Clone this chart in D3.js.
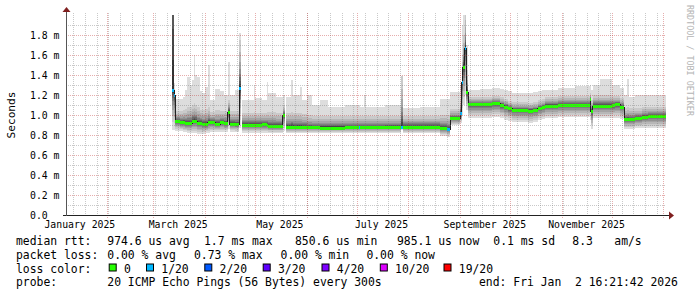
<!DOCTYPE html>
<html>
<head>
<meta charset="utf-8">
<script src="https://cdn.jsdelivr.net/npm/d3@7"></script>
<style>
  html, body { margin: 0; padding: 0; background: #fff; }
  svg { display: block; }
  text { font-family: "DejaVu Sans Mono", monospace; fill: #000; white-space: pre; }
</style>
</head>
<body>
<svg id="chart" width="697" height="297"></svg>
<script>
// Time window of the graph (360 days ending at the probe end time)
const endTime = '2026-01-02T16:21:42Z'
const spanDays = 360

// One entry per consolidated step (start time, UTC, hour resolution)
const bucketStart = [
  '2025-03-12T07', '2025-03-13T12', '2025-03-14T02', '2025-03-17T02', '2025-03-18T21',
  '2025-03-20T02', '2025-03-21T07', '2025-03-23T02', '2025-03-24T07', '2025-03-25T12',
  '2025-03-26T02', '2025-03-27T07', '2025-03-29T02', '2025-03-30T07', '2025-04-01T02',
  '2025-04-02T21', '2025-04-04T02', '2025-04-07T02', '2025-04-10T02', '2025-04-12T12',
  '2025-04-14T21', '2025-04-15T19', '2025-04-19T02', '2025-04-21T12', '2025-04-22T16',
  '2025-04-23T07', '2025-04-30T12', '2025-05-01T09', '2025-05-05T07', '2025-05-08T07',
  '2025-05-08T21', '2025-05-13T16', '2025-05-17T21', '2025-05-19T02', '2025-05-19T23',
  '2025-05-22T16', '2025-05-23T21', '2025-05-28T02', '2025-05-29T07', '2025-06-01T07',
  '2025-06-04T07', '2025-06-09T02', '2025-06-13T21', '2025-06-24T02', '2025-07-02T12',
  '2025-07-03T02', '2025-07-05T12', '2025-07-06T16', '2025-07-18T02', '2025-07-27T16',
  '2025-07-28T21', '2025-08-08T02', '2025-08-20T02', '2025-08-24T07', '2025-08-26T02',
  '2025-09-01T02', '2025-09-02T02', '2025-09-02T21', '2025-09-03T19', '2025-09-04T23',
  '2025-09-06T01', '2025-09-13T02', '2025-09-20T07', '2025-09-25T02', '2025-09-27T12',
  '2025-09-29T21', '2025-10-02T07', '2025-10-11T21', '2025-10-14T21', '2025-10-17T21',
  '2025-10-20T07', '2025-10-22T02', '2025-10-29T21', '2025-11-09T02', '2025-11-18T02',
  '2025-11-18T16', '2025-11-19T21', '2025-11-24T02', '2025-12-01T07', '2025-12-03T02',
  '2025-12-06T02', '2025-12-08T12', '2025-12-10T07', '2025-12-11T12', '2025-12-15T02',
  '2025-12-19T07', '2025-12-22T21'
]

// median rtt in ms (null = no data)
const medianMs = [
  1.25, 1.20, 0.94, 0.927, 0.927, 0.917, 0.917, 0.917, 0.94, 0.94,
  0.94, 0.917, 0.917, 0.907, 0.907, 0.927, 0.927, 0.907, 0.927, 0.917,
  1.03, 0.907, 0.905, 1.27, null, 0.90, 0.90, 0.90, 0.905, 0.90,
  0.89, 0.89, 1.00, null, 0.883, 0.883, 0.883, 0.883, 0.883, 0.877,
  0.877, 0.875, 0.875, 0.877, 0.877, 0.877, 0.877, 0.877, 0.88, 0.88,
  0.883, 0.883, 0.867, 0.857, 0.967, 1.017, 1.33, 1.48, 1.67, 1.23,
  1.107, 1.107, 1.117, 1.10, 1.085, 1.067, 1.05, 1.045, 1.05, 1.07,
  1.08, 1.093, 1.10, 1.10, 1.16, 1.04, 1.093, 1.093, 1.10, 1.107,
  1.085, 0.957, 0.957, 0.957, 0.967, 0.983, 0.99
]

// slowest ping of the step (top of the lightest smoke)
const maxMs = [
  8, 1.32, 1.16, 1.16, 1.18, 1.25, 1.38, 1.30, 1.35, 1.60,
  1.40, 1.38, 1.24, 1.22, 1.28, 1.50, 1.15, 1.26, 1.24, 1.20,
  1.53, 1.20, 1.25, 1.82, null, 1.15, 1.30, 1.17, 1.15, 1.33,
  1.22, 1.18, 1.20, null, 1.18, 1.35, 1.20, 1.28, 1.15, 1.20,
  1.10, 1.15, 1.08, 1.10, 1.10, 1.08, 1.20, 1.08, 1.10, 1.39,
  1.07, 1.08, 1.16, 1.16, 1.23, 1.30, 1.90, 2.00, 2.20, 1.70,
  1.25, 1.26, 1.27, 1.26, 1.25, 1.24, 1.22, 1.22, 1.23, 1.24,
  1.25, 1.25, 1.27, 1.29, 1.30, 1.25, 1.30, 1.36, 1.30, 1.30,
  1.27, 1.20, 1.36, 1.18, 1.20, 1.20, 1.20
]

// upper edge of the second smoke band
const upperMs = [
  8, 1.26, 1.04, 1.04, 1.05, 1.06, 1.08, 1.08, 1.10, 1.12,
  1.10, 1.08, 1.05, 1.05, 1.06, 1.08, 1.03, 1.05, 1.04, 1.04,
  1.15, 1.04, 1.04, 1.75, null, 1.02, 1.03, 1.02, 1.02, 1.03,
  1.03, 1.02, 1.10, null, 1.02, 1.03, 1.02, 1.02, 1.01, 1.00,
  0.99, 0.99, 0.99, 0.99, 0.99, 0.99, 0.99, 0.99, 0.99, 1.39,
  0.99, 0.99, 1.00, 1.00, 1.06, 1.15, 1.60, 1.80, 2.05, 1.45,
  1.18, 1.18, 1.19, 1.18, 1.16, 1.14, 1.13, 1.12, 1.13, 1.15,
  1.16, 1.18, 1.19, 1.19, 1.22, 1.15, 1.20, 1.20, 1.19, 1.19,
  1.17, 1.07, 1.08, 1.07, 1.07, 1.08, 1.08
]

// fastest ping of the step (bottom of the smoke)
const minMs = [
  0.85, 0.85, 0.84, 0.84, 0.83, 0.83, 0.82, 0.82, 0.82, 0.82,
  0.82, 0.81, 0.81, 0.81, 0.82, 0.82, 0.83, 0.83, 0.83, 0.83,
  0.86, 0.83, 0.83, 0.87, null, 0.82, 0.82, 0.82, 0.82, 0.82,
  0.82, 0.82, 0.84, null, 0.82, 0.82, 0.82, 0.82, 0.82, 0.82,
  0.82, 0.82, 0.82, 0.82, 0.82, 0.82, 0.82, 0.82, 0.82, 0.85,
  0.82, 0.82, 0.79, 0.78, 0.90, 0.92, 1.00, 1.10, 1.20, 1.05,
  0.97, 0.97, 0.98, 0.97, 0.95, 0.94, 0.93, 0.92, 0.93, 0.95,
  0.96, 0.97, 0.98, 0.98, 0.95, 0.86, 0.97, 0.97, 0.97, 0.97,
  0.96, 0.86, 0.86, 0.86, 0.87, 0.87, 0.87
]

// lost pings out of 20
const lossCount = [
  1, 1, 0, 0, 0, 0, 0, 0, 0, 0,
  0, 0, 0, 0, 0, 0, 0, 0, 0, 0,
  0, 0, 0, 1, 0, 0, 0, 0, 0, 0,
  0, 0, 0, 0, 0, 0, 0, 0, 0, 0,
  0, 0, 0, 0, 1, 0, 0, 0, 0, 1,
  0, 0, 0, 1, 0, 1, 1, 0, 1, 0,
  0, 0, 0, 0, 0, 0, 0, 0, 0, 0,
  0, 0, 0, 0, 0, 0, 0, 0, 0, 0,
  0, 0, 0, 0, 0, 0, 0
]

// smoke shape: share of the spread reached by each band (lightest first)
const upShare = [1, 1, 0.75, 0.55, 0.4, 0.3, 0.22, 0.15, 0.09, 0.045]
const downShare = [1, 0.8, 0.64, 0.5, 0.38, 0.28, 0.2, 0.13, 0.07, 0.03]
const smokeGrey = [221, 202, 183, 164, 145, 126, 107, 88, 69, 50]

const lossLevels = [0, 1, 2, 3, 4, 10, 19]
const lossLabels = ['0', '1/20', '2/20', '3/20', '4/20', '10/20', '19/20']
const lossColors = ['#26ff00', '#00b8ff', '#0059ff', '#5e00ff', '#7e00ff', '#dd00ff', '#ff0000']

const yTicks = [0, 0.2, 0.4, 0.6, 0.8, 1.0, 1.2, 1.4, 1.6, 1.8]
const monthLabelMonths = ['2025-01', '2025-03', '2025-05', '2025-07', '2025-09', '2025-11']

const rttStats = ['median rtt:', '974.6 us avg', '1.7 ms max', '850.6 us min', '985.1 us now', '0.1 ms sd', '8.3', 'am/s']
const lossStats = ['packet loss:', '0.00 % avg', '0.73 % max', '0.00 % min', '0.00 % now']
const probeText = ['probe:', '20 ICMP Echo Pings (56 Bytes) every 300s', 'end: Fri Jan  2 16:21:42 2026']

// ---- layout ----
const plot = { left: 66, right: 666, top: 15, bottom: 215 }
const rttX = [16, 107.3, 204, 295, 397, 493.3, 572.3, 614.3]
const lossX = [16, 107.3, 194, 280.6, 366.4]
const lossBoxX = [108.7, 146, 204.3, 262.7, 321.5, 379.8, 443.5]
const probeX = [16, 107.3, 479]
const rowY = [244.5, 258.5, 272.5, 286.3]

const svg = d3.select('#chart')
const parseHour = d3.utcParse('%Y-%m-%dT%H')
const end = new Date(endTime)
const start = d3.utcDay.offset(end, -spanDays)

const x = d3.scaleUtc().domain([start, end]).range([plot.left, plot.right])
const y = d3.scaleLinear().domain([0, 2]).range([plot.bottom, plot.top])
const px = v => Math.round(v) + 0.5

const buckets = bucketStart.map((s, i) => ({
  t0: parseHour(s),
  t1: i + 1 < bucketStart.length ? parseHour(bucketStart[i + 1]) : end,
  med: medianMs[i], max: maxMs[i], up: upperMs[i], min: minMs[i], loss: lossCount[i]
}))

// two points per step so the areas are drawn stepwise, like rrdtool
const pts = []
buckets.forEach(b => { pts.push({ t: b.t0, b }); pts.push({ t: b.t1, b }) })

svg.append('rect').attr('width', 697).attr('height', 297).attr('fill', '#fff')

svg.append('clipPath').attr('id', 'plotClip')
  .append('rect')
  .attr('x', plot.left).attr('y', plot.top)
  .attr('width', plot.right - plot.left).attr('height', plot.bottom - plot.top)

const g = svg.append('g').attr('clip-path', 'url(#plotClip)')

// smoke bands, lightest and widest first
smokeGrey.forEach((grey, j) => {
  const area = d3.area()
    .defined(p => p.b.med != null)
    .x(p => x(p.t))
    .y0(p => y(p.b.med - downShare[j] * (p.b.med - p.b.min)))
    .y1(p => y(j === 0 ? p.b.max : p.b.med + upShare[j] * (p.b.up - p.b.med)))
  g.append('path')
    .attr('d', area(pts))
    .attr('fill', d3.rgb(grey, grey, grey))
    .attr('shape-rendering', 'crispEdges')
})

// grid
const grid = svg.append('g')
const minorH = d3.range(1, 20).map(i => i / 10).filter(v => !yTicks.some(t => Math.abs(t - v) < 1e-6))
grid.selectAll('.hmin').data(minorH).join('line')
  .attr('x1', plot.left).attr('x2', plot.right)
  .attr('y1', d => px(y(d))).attr('y2', d => px(y(d)))
  .attr('stroke', 'rgba(120,120,120,0.4)').attr('stroke-dasharray', '1,1')

const weeks = d3.utcSunday.range(start, end)
const months = d3.utcMonth.range(start, end)
grid.selectAll('.vmin').data(weeks).join('line')
  .attr('x1', d => px(x(d))).attr('x2', d => px(x(d)))
  .attr('y1', plot.top - 2).attr('y2', plot.bottom + 2)
  .attr('stroke', 'rgba(120,120,120,0.4)').attr('stroke-dasharray', '1,1')

grid.selectAll('.hmaj').data(yTicks.filter(v => v > 0)).join('line')
  .attr('x1', plot.left).attr('x2', plot.right)
  .attr('y1', d => px(y(d))).attr('y2', d => px(y(d)))
  .attr('stroke', 'rgba(190,40,40,0.38)').attr('stroke-dasharray', '1,1')
grid.selectAll('.vmaj').data(months).join('line')
  .attr('x1', d => px(x(d))).attr('x2', d => px(x(d)))
  .attr('y1', plot.top - 2).attr('y2', plot.bottom + 3)
  .attr('stroke', 'rgba(190,40,40,0.38)').attr('stroke-dasharray', '1,1')

// median: dark step line, then loss-coloured bars on top
const medLine = d3.line()
  .defined(p => p.b.med != null)
  .x(p => x(p.t))
  .y(p => px(y(p.b.med)))
g.append('path').attr('d', medLine(pts))
  .attr('fill', 'none').attr('stroke', '#202020').attr('stroke-width', 1)
  .attr('shape-rendering', 'crispEdges')

g.selectAll('.med').data(buckets.filter(b => b.med != null)).join('rect')
  .attr('x', b => x(b.t0))
  .attr('width', b => Math.max(1, x(b.t1) - x(b.t0)))
  .attr('y', b => Math.round(y(b.med)) - 1)
  .attr('height', 3)
  .attr('fill', b => lossColors[d3.bisectRight(lossLevels, b.loss) - 1])
  .attr('shape-rendering', 'crispEdges')

// axes
svg.append('line')
  .attr('x1', plot.left - 3).attr('x2', plot.right + 4)
  .attr('y1', plot.bottom + 0.5).attr('y2', plot.bottom + 0.5)
  .attr('stroke', '#222')
svg.append('line')
  .attr('x1', plot.left + 0.5).attr('x2', plot.left + 0.5)
  .attr('y1', plot.bottom + 1).attr('y2', plot.top - 4)
  .attr('stroke', '#555')
svg.append('path')
  .attr('d', `M${plot.right + 3},${plot.bottom - 3.5}L${plot.right + 8},${plot.bottom + 0.5}L${plot.right + 3},${plot.bottom + 4.5}Z`)
  .attr('fill', '#7f1f1f')
svg.append('path')
  .attr('d', `M${plot.left - 3.5},${plot.top - 3}L${plot.left + 0.5},${plot.top - 8}L${plot.left + 4.5},${plot.top - 3}Z`)
  .attr('fill', '#7f1f1f')

// y labels
svg.selectAll('.ylab').data(yTicks).join('text')
  .attr('x', 30).attr('y', d => y(d) + 3.6)
  .attr('font-size', '9.8px')
  .text(d => d === 0 ? '0.0' : d3.format('.1f')(d) + ' m')

svg.append('text')
  .attr('transform', 'translate(15,115) rotate(-90)')
  .attr('text-anchor', 'middle')
  .attr('font-size', '11.2px')
  .text('Seconds')

// x labels centred on the middle of the month
const fmtMonth = d3.utcFormat('%B %Y')
const parseMonth = d3.utcParse('%Y-%m')
svg.selectAll('.xlab').data(monthLabelMonths.map(parseMonth)).join('text')
  .attr('x', d => x(d3.utcDay.offset(d, 15)))
  .attr('y', 227.5)
  .attr('text-anchor', 'middle')
  .attr('font-size', '9.8px')
  .text(d => fmtMonth(d))

// watermark
svg.append('text')
  .attr('transform', 'translate(687,5) rotate(90)')
  .attr('font-size', '8.4px')
  .style('fill', '#b4b4b4')
  .text('RRDTOOL / TOBI OETIKER')

// legend
const legend = svg.append('g').attr('font-size', '11.4px')
rttStats.forEach((t, i) => legend.append('text').attr('x', rttX[i]).attr('y', rowY[0]).text(t))
lossStats.forEach((t, i) => legend.append('text').attr('x', lossX[i]).attr('y', rowY[1]).text(t))
legend.append('text').attr('x', 16).attr('y', rowY[2]).text('loss color:')
lossLabels.forEach((t, i) => {
  legend.append('rect')
    .attr('x', lossBoxX[i] + 0.5).attr('y', rowY[2] - 8.5)
    .attr('width', 7).attr('height', 7)
    .attr('fill', lossColors[i]).attr('stroke', '#000').attr('stroke-width', 1)
  legend.append('text').attr('x', lossBoxX[i] + 15.3).attr('y', rowY[2]).text(t)
})
probeText.forEach((t, i) => legend.append('text').attr('x', probeX[i]).attr('y', rowY[3]).text(t))
</script>
</body>
</html>
